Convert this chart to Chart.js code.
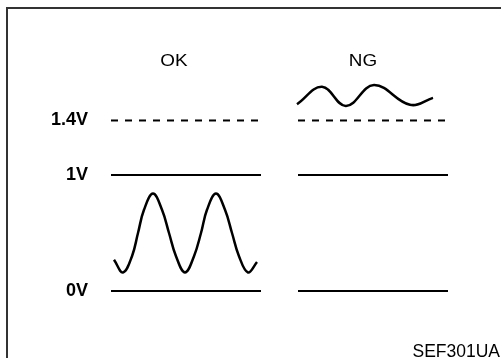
<!DOCTYPE html>
<html>
<head>
<meta charset="utf-8">
<script src="https://cdn.jsdelivr.net/npm/chart.js@4"></script>
<style>
  html, body { margin: 0; padding: 0; background: #fff; }
  #wrap { position: relative; width: 501px; height: 358px; overflow: hidden; }
  #frame { position: absolute; left: 6px; top: 7px; width: 600px; height: 600px;
           border-left: 2px solid #333; border-top: 2px solid #333; }
  canvas { position: absolute; left: 0; top: 0; }
</style>
</head>
<body>
<div id="wrap">
  <div id="frame"></div>
  <canvas id="sensorChart" width="501" height="358"></canvas>
</div>
<script>
// Voltage levels (left axis) and their labels
const levelValues = [0, 1, 1.47];
const levelLabels = ['0V', '1V', '1.4V'];
const panelTitles = ['OK', 'NG'];
const figureCode = 'SEF301UA';

// Each panel spans 150 units along x; NG panel starts at 187
const okSpan = [0, 150];
const ngSpan = [187, 337];

// OK signal: swings between ~0.16V and ~0.84V
const okTime = [3, 12, 21, 27, 33, 42, 51, 58, 65, 74, 83, 90, 96, 105, 114, 121, 128, 137, 146];
const okVolt = [0.27, 0.16, 0.3, 0.5, 0.7, 0.84, 0.7, 0.5, 0.3, 0.16, 0.3, 0.5, 0.7, 0.84, 0.7, 0.5, 0.3, 0.16, 0.25];

// NG signal: stays above 1.4V
const ngTime = [186, 211, 235, 263, 299, 322];
const ngVolt = [1.61, 1.76, 1.595, 1.775, 1.605, 1.665];

function pts(xs, ys) {
  return xs.map((x, i) => ({ x: x, y: ys[i] }));
}
function level(span, v) {
  return [{ x: span[0], y: v }, { x: span[1], y: v }];
}

function refLine(span, v, dashed) {
  return {
    data: level(span, v),
    borderColor: '#000',
    borderWidth: 2,
    borderDash: dashed ? [7, 7] : [],
    pointRadius: 0,
    tension: 0
  };
}

const datasets = [];
[okSpan, ngSpan].forEach(span => {
  datasets.push(refLine(span, levelValues[0], false));
  datasets.push(refLine(span, levelValues[1], false));
  datasets.push(refLine(span, levelValues[2], true));
});
[[okTime, okVolt], [ngTime, ngVolt]].forEach(s => {
  datasets.push({
    data: pts(s[0], s[1]),
    borderColor: '#000',
    borderWidth: 2.5,
    pointRadius: 0,
    tension: 0.4
  });
});

// Panel titles and figure code drawn over the chart
const textPlugin = {
  id: 'panelText',
  afterDraw(chart) {
    const c = chart.ctx;
    const xs = chart.scales.x;
    const titleX = [63, 252];
    c.save();
    c.fillStyle = '#000';
    c.font = '16px "Liberation Sans", Arial, sans-serif';
    c.textAlign = 'center';
    c.textBaseline = 'middle';
    panelTitles.forEach((t, i) => {
      c.save();
      c.translate(xs.getPixelForValue(titleX[i]), 62);
      c.scale(1.18, 1);
      c.fillText(t, 0, 0);
      c.restore();
    });
    c.font = '17.5px "Liberation Sans", Arial, sans-serif';
    c.textAlign = 'right';
    c.textBaseline = 'alphabetic';
    c.fillText(figureCode, 500, 357);
    c.restore();
  }
};

const ctx = document.getElementById('sensorChart').getContext('2d');
const sensorChart = new Chart(ctx, {
  type: 'line',
  data: { datasets: datasets },
  options: {
    responsive: false,
    animation: false,
    devicePixelRatio: 1,
    layout: { padding: { left: 11, right: 53, top: 59, bottom: 38 } },
    plugins: {
      legend: { display: false },
      tooltip: { enabled: false },
      title: { display: false }
    },
    scales: {
      x: {
        type: 'linear',
        display: false,
        min: 0,
        max: 337
      },
      y: {
        type: 'linear',
        min: -0.25,
        max: 2.0,
        grid: { display: false },
        border: { display: false },
        afterBuildTicks: scale => {
          scale.ticks = levelValues.map(v => ({ value: v }));
        },
        afterFit: scale => { scale.width = 100; },
        ticks: {
          padding: 15,
          color: '#000',
          font: { family: '"Liberation Sans", Arial, sans-serif', size: 18, weight: 'bold' },
          callback: (value, index) => levelLabels[index]
        }
      }
    }
  },
  plugins: [textPlugin]
});
</script>
</body>
</html>
